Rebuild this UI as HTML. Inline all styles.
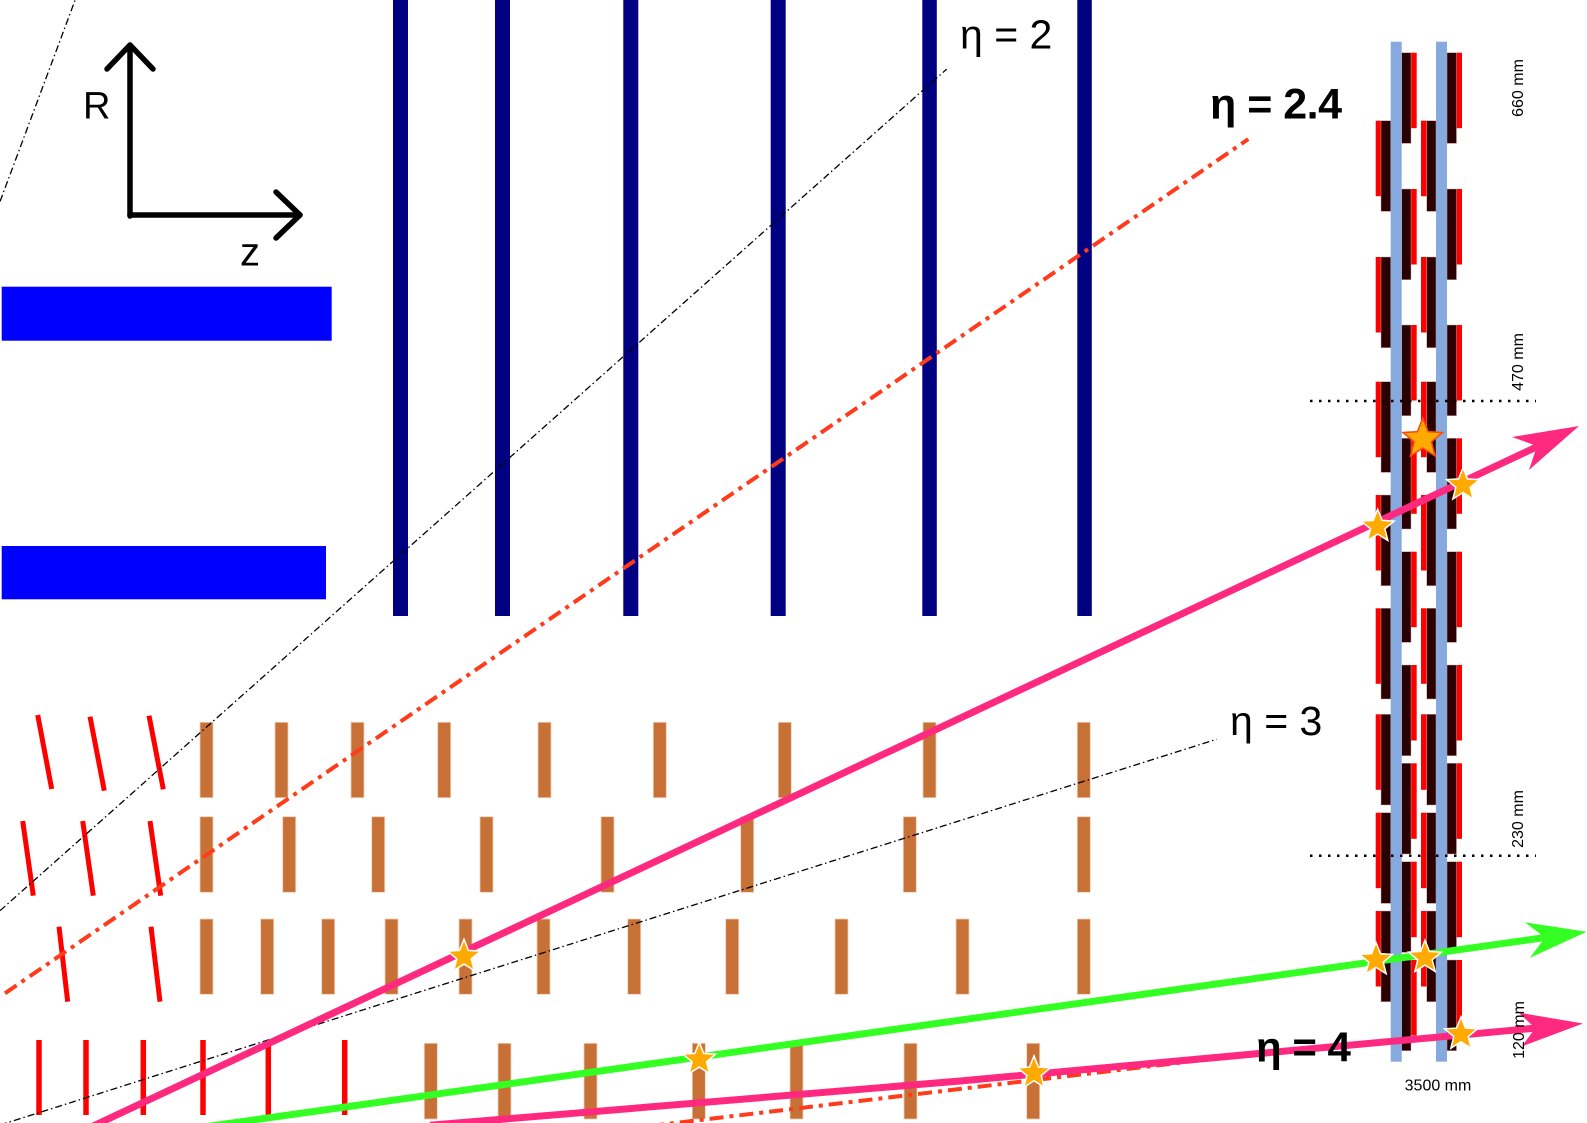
<!DOCTYPE html>
<html>
<head>
<meta charset="utf-8">
<style>
html,body{margin:0;padding:0;background:#fff;overflow:hidden;}
svg{display:block;}
text{font-family:"Liberation Sans","DejaVu Sans",sans-serif;}
</style>
</head>
<body>
<svg width="1587" height="1123" viewBox="0 0 1587 1123" xmlns="http://www.w3.org/2000/svg">
<defs>
  <g id="mR">
    <rect x="1401.7" y="0" width="15" height="75.5" fill="#ff0000"/>
    <rect x="1401.7" y="0" width="9.3" height="90.7" fill="#2b0000" stroke="#c8a0a0" stroke-width="0.5"/>
    <rect x="1447" y="0" width="15" height="75.5" fill="#ff0000"/>
    <rect x="1447" y="0" width="9.5" height="90.7" fill="#2b0000" stroke="#c8a0a0" stroke-width="0.5"/>
  </g>
  <g id="mL">
    <rect x="1375.7" y="0" width="15" height="75.5" fill="#ff0000"/>
    <rect x="1381" y="0" width="9.7" height="90.7" fill="#2b0000" stroke="#c8a0a0" stroke-width="0.5"/>
    <rect x="1421" y="0" width="15" height="75.5" fill="#ff0000"/>
    <rect x="1426.7" y="0" width="9.3" height="90.7" fill="#2b0000" stroke="#c8a0a0" stroke-width="0.5"/>
  </g>
  <path id="st" d="M0,-16 L4.11,-5.66 L15.22,-4.94 L6.66,2.16 L9.40,12.94 L0,7 L-9.40,12.94 L-6.66,2.16 L-15.22,-4.94 L-4.11,-5.66Z"/>
</defs>

<rect x="0" y="0" width="1587" height="1123" fill="#ffffff"/>

<!-- blue rectangles -->
<rect x="1.7" y="286.7" width="330" height="54" fill="#0000ff"/>
<rect x="1.7" y="546" width="324.3" height="53.3" fill="#0000ff"/>

<!-- navy bars -->
<g fill="#000080">
  <rect x="393" y="0" width="15" height="616"/>
  <rect x="495" y="0" width="15" height="616"/>
  <rect x="623.3" y="0" width="15" height="616"/>
  <rect x="770.7" y="0" width="15" height="616"/>
  <rect x="922.3" y="0" width="14.5" height="616"/>
  <rect x="1077.3" y="0" width="14.5" height="616"/>
</g>

<!-- axes arrows -->
<g stroke="#000" stroke-width="5.5" fill="none" stroke-linecap="round" stroke-linejoin="round">
  <polyline points="130,216 130,45"/>
  <polyline points="107,69 130,45 153,69"/>
  <polyline points="130,215 300,215"/>
  <polyline points="276,192 300,215 276,238"/>
</g>
<text x="83" y="118.3" font-size="38" fill="#000">R</text>
<text x="240" y="265.7" font-size="40" fill="#000">z</text>

<!-- red slanted / vertical lines (left) -->
<g stroke="#ff0000" stroke-width="5">
  <line x1="37.7" y1="715" x2="51.7" y2="789"/>
  <line x1="90" y1="716.7" x2="104.3" y2="790.7"/>
  <line x1="149" y1="715.7" x2="163.3" y2="789.3"/>
  <line x1="22.7" y1="821" x2="33.3" y2="895.7"/>
  <line x1="82.7" y1="821" x2="93.3" y2="895.7"/>
  <line x1="150" y1="821" x2="160.7" y2="895.7"/>
  <line x1="59" y1="926.7" x2="67.7" y2="1001.7"/>
  <line x1="151" y1="926.7" x2="160" y2="1001.7"/>
</g>
<g stroke="#ff0000" stroke-width="5.5">
  <line x1="39" y1="1040" x2="39" y2="1115"/>
  <line x1="86" y1="1040" x2="86" y2="1115"/>
  <line x1="143.3" y1="1040" x2="143.3" y2="1115"/>
  <line x1="203" y1="1040" x2="203" y2="1115"/>
  <line x1="268.3" y1="1040" x2="268.3" y2="1115"/>
  <line x1="344.7" y1="1040" x2="344.7" y2="1115"/>
</g>

<!-- brown bars -->
<g fill="#c87137" stroke="#efd0b8" stroke-width="0.8">
  <rect x="200" y="722.3" width="13" height="75.4"/>
  <rect x="275" y="722.3" width="13" height="75.4"/>
  <rect x="351" y="722.3" width="13" height="75.4"/>
  <rect x="437.7" y="722.3" width="13" height="75.4"/>
  <rect x="538" y="722.3" width="13" height="75.4"/>
  <rect x="653.3" y="722.3" width="13" height="75.4"/>
  <rect x="778.3" y="722.3" width="13" height="75.4"/>
  <rect x="923" y="722.3" width="13" height="75.4"/>
  <rect x="1077.3" y="722.3" width="13" height="75.4"/>

  <rect x="200" y="816.7" width="13" height="75.6"/>
  <rect x="282.7" y="816.7" width="13" height="75.6"/>
  <rect x="371.7" y="816.7" width="13" height="75.6"/>
  <rect x="480" y="816.7" width="13" height="75.6"/>
  <rect x="601" y="816.7" width="13" height="75.6"/>
  <rect x="740.7" y="816.7" width="13" height="75.6"/>
  <rect x="903.3" y="816.7" width="13" height="75.6"/>
  <rect x="1077.3" y="816.7" width="13" height="75.6"/>

  <rect x="200" y="919" width="13" height="75.3"/>
  <rect x="260.7" y="919" width="13" height="75.3"/>
  <rect x="321.7" y="919" width="13" height="75.3"/>
  <rect x="385" y="919" width="13" height="75.3"/>
  <rect x="459" y="919" width="13" height="75.3"/>
  <rect x="537" y="919" width="13" height="75.3"/>
  <rect x="627.7" y="919" width="13" height="75.3"/>
  <rect x="725.7" y="919" width="13" height="75.3"/>
  <rect x="835" y="919" width="13" height="75.3"/>
  <rect x="956" y="919" width="13" height="75.3"/>
  <rect x="1077.3" y="919" width="13" height="75.3"/>

  <rect x="424.3" y="1043.3" width="13" height="75.7"/>
  <rect x="498" y="1043.3" width="13" height="75.7"/>
  <rect x="584" y="1043.3" width="13" height="75.7"/>
  <rect x="692.3" y="1043.3" width="13" height="75.7"/>
  <rect x="790" y="1043.3" width="13" height="75.7"/>
  <rect x="904" y="1043.3" width="13" height="75.7"/>
  <rect x="1026.7" y="1043.3" width="13" height="75.7"/>
</g>

<!-- eta lines (black thin dash-dot) -->
<g stroke="#000" stroke-width="1.3" stroke-dasharray="7 3 1.5 3" fill="none">
  <line x1="-5" y1="215" x2="80" y2="-13"/>
  <line x1="0" y1="910.7" x2="946.7" y2="69.1"/>
  <line x1="0" y1="1125" x2="1216.7" y2="739.2"/>
</g>
<!-- eta red dash-dot lines -->
<g stroke="#ff3b1b" stroke-width="4" stroke-dasharray="14 6 4 6" fill="none">
  <line x1="5" y1="993.3" x2="1248.3" y2="139.1"/>
  <line x1="650" y1="1126" x2="1216.7" y2="1058.3"/>
</g>

<!-- detector modules -->
<use href="#mR" y="52.7"/>
<use href="#mR" y="189"/>
<use href="#mR" y="325"/>
<use href="#mR" y="438.3"/>
<use href="#mR" y="551.7"/>
<use href="#mR" y="665"/>
<use href="#mR" y="763.3"/>
<use href="#mR" y="861.7"/>
<use href="#mR" y="960"/>
<use href="#mL" y="120.7"/>
<use href="#mL" y="257"/>
<use href="#mL" y="381.7"/>
<use href="#mL" y="495"/>
<use href="#mL" y="608.3"/>
<use href="#mL" y="714.3"/>
<use href="#mL" y="812.7"/>
<use href="#mL" y="911"/>

<!-- light blue columns -->
<rect x="1390.7" y="41.7" width="11" height="1020" fill="#87aade"/>
<rect x="1436" y="41.7" width="11" height="1020" fill="#87aade"/>

<!-- dotted lines -->
<g stroke="#000" stroke-width="2.5" stroke-dasharray="2.5 6.5">
  <line x1="1310" y1="401" x2="1536" y2="401"/>
  <line x1="1310" y1="855.7" x2="1536" y2="855.7"/>
</g>

<!-- tracks -->
<g fill="none" stroke-linecap="butt">
  <line x1="80" y1="1132.2" x2="1540" y2="445.3" stroke="#ff2a7f" stroke-width="7"/>
  <line x1="200" y1="1127.5" x2="1546" y2="937.4" stroke="#33ff22" stroke-width="7"/>
  <polyline points="430,1125.3 960,1081 1537,1028" stroke="#ff2a7f" stroke-width="7"/>
</g>
<!-- arrowheads -->
<polygon points="1579,426 1512,437 1537,446 1529,470" fill="#ff2a7f"/>
<polygon points="1586.7,931.7 1524.8,922.3 1545.1,937.6 1529.8,957.9" fill="#33ff22"/>
<polygon points="1583,1023.5 1518.7,1012.6 1535.2,1028.1 1521.9,1046.4" fill="#ff2a7f"/>

<!-- stars -->
<g fill="#ffaa00" stroke="#ffffff" stroke-width="1.4">
  <use href="#st" transform="translate(464,956.5) scale(1.08)"/>
  <use href="#st" transform="translate(699.3,1059.5) scale(1.08)"/>
  <use href="#st" transform="translate(1034,1073.2) scale(1.08)"/>
  <use href="#st" transform="translate(1377.7,526.5) scale(1.08)"/>
  <use href="#st" transform="translate(1463,485) scale(1.08)"/>
  <use href="#st" transform="translate(1376,959.8) scale(1.08)"/>
  <use href="#st" transform="translate(1425,957.5) scale(1.08)"/>
  <use href="#st" transform="translate(1461,1034.2) scale(1.08)"/>
</g>
<use href="#st" transform="translate(1422.8,439) scale(1.3)" fill="#ffaa00" stroke="#ff4a10" stroke-width="1.2"/>

<!-- labels -->
<text x="960" y="48.3" font-size="41" fill="#000">η = 2</text>
<text x="1210" y="118.3" font-size="43" font-weight="bold" letter-spacing="-0.5" fill="#000">η = 2.4</text>
<text x="1230" y="735" font-size="41" fill="#000">η = 3</text>
<text x="1256" y="1061.7" font-size="42" font-weight="bold" letter-spacing="-0.5" fill="#000">η = 4</text>

<g font-size="16" fill="#000" text-anchor="middle">
  <text transform="translate(1523,88) rotate(-90)">660 mm</text>
  <text transform="translate(1523,362) rotate(-90)">470 mm</text>
  <text transform="translate(1523,819) rotate(-90)">230 mm</text>
  <text transform="translate(1524,1030) rotate(-90)">120 mm</text>
  <text x="1438" y="1090.7">3500 mm</text>
</g>
</svg>
</body>
</html>
